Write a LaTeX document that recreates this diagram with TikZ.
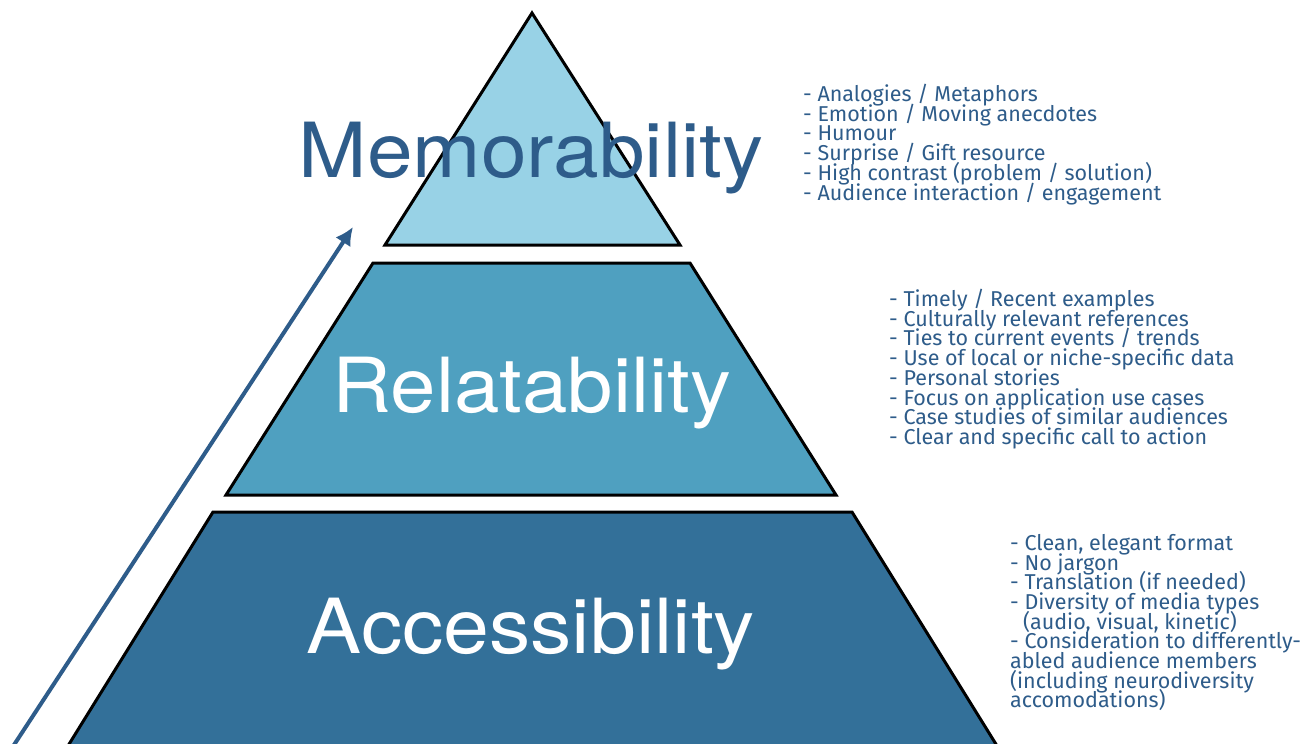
\documentclass[tikz,border=0pt]{standalone}
\usepackage{fontspec}
\usepackage{graphicx}
\setmainfont{TeX Gyre Heros}
\newfontfamily\listfont{Fira Sans}
\usetikzlibrary{arrows.meta}

\definecolor{tiertop}{RGB}{152,210,230}
\definecolor{tiermid}{RGB}{79,160,192}
\definecolor{tierlow}{RGB}{51,112,153}
\definecolor{inkblue}{RGB}{46,92,138}

% list lines sit at a fixed pitch, even where letters nearly touch
\newcommand{\notesfont}{\listfont\fontsize{21.5}{19.7}\selectfont\lineskiplimit=-50pt\relax\lineskip=0pt\relax}

\tikzset{
  tier/.style={draw=black, line width=3pt, line join=miter},
  title/.style={anchor=base, inner sep=0pt, font=\fontsize{76}{80}\selectfont},
  notes/.style={anchor=north west, inner sep=0pt, align=left, text=inkblue,
    font=\notesfont},
  rise/.style={draw=inkblue, line width=4pt, -{Latex[length=18pt,width=18pt]}}
}

\begin{document}
\begin{tikzpicture}[x=1pt,y=-1pt]
  \useasboundingbox (0,0) rectangle (1309,744);
  \fill[white] (0,0) rectangle (1309,744);

  % pyramid tiers
  \draw[tier, fill=tierlow] (213,512) -- (852,512) -- (1012,770) -- (53,770) -- cycle;
  \draw[tier, fill=tiermid] (373,263) -- (690,263) -- (836,495) -- (226,495) -- cycle;
  \draw[tier, fill=tiertop] (532,13) -- (680,245) -- (385,245) -- cycle;

  % tier names
  \node[title, text=inkblue] (mem) at (531,177) {\scalebox{1.08}[1]{Memorability}};
  \node[title, text=white] (rel) at (532,412) {\scalebox{1.075}[1]{Relatability}};
  \node[title, text=white] (acc) at (531,653) {\scalebox{1.085}[1]{Accessibility}};

  % rising arrow
  \coordinate (risefrom) at (10,751);
  \coordinate (riseto) at (353,227);
  \draw[rise] (risefrom) -- (riseto);

  % notes for each tier
  \node[notes] (memnotes) at (803,84) {%
    - Analogies / Metaphors\\
    - Emotion / Moving anecdotes\\
    - Humour\\
    - Surprise / Gift resource\\
    - High contrast (problem / solution)\\
    - Audience interaction / engagement};

  \node[notes] (relnotes) at (889,289) {%
    - Timely / Recent examples\\
    - Culturally relevant references\\
    - Ties to current events / trends\\
    - Use of local or niche-specific data\\
    - Personal stories\\
    - Focus on application use cases\\
    - Case studies of similar audiences\\
    - Clear and specific call to action};

  \node[notes] (accnotes) at (1010,534) {%
    - Clean, elegant format\\
    - No jargon\\
    - Translation (if needed)\\
    - Diversity of media types\\
    \hspace*{13pt}(audio, visual, kinetic)\\
    - Consideration to differently-\\
    abled audience members\\
    (including neurodiversity\\
    accomodations)};
\end{tikzpicture}
\end{document}
